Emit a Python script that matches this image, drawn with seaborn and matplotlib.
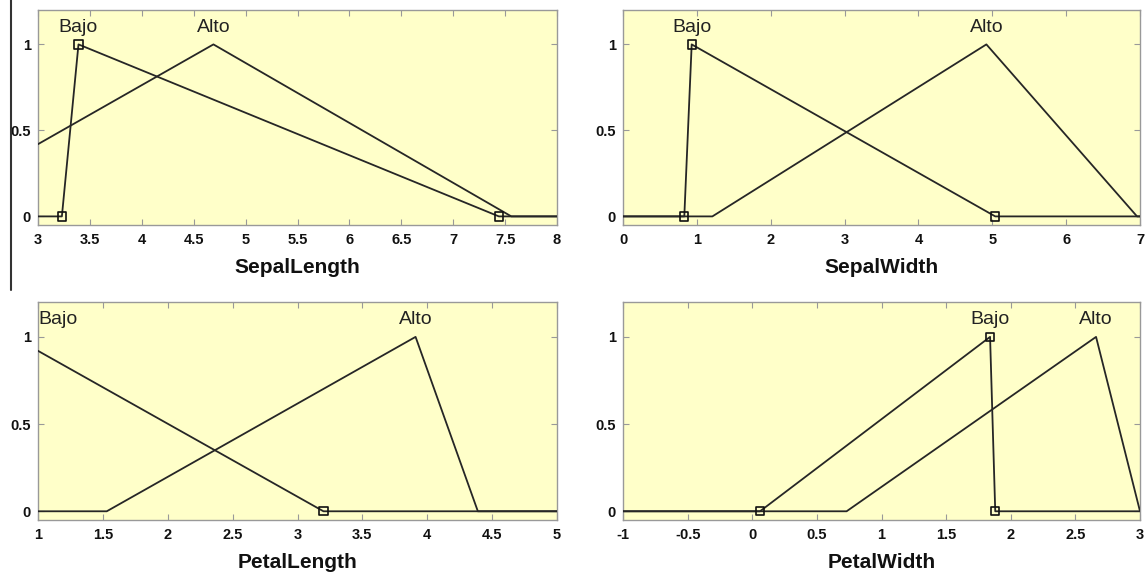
import matplotlib
matplotlib.use("Agg")
import matplotlib.pyplot as plt
from matplotlib.lines import Line2D
import seaborn as sns
import pandas as pd

sns.set_theme(style="white")
plt.rcParams['font.family'] = ['Liberation Sans', 'DejaVu Sans']

# ---- data: membership-function breakpoints ----
sl_bajo_x = [3.0, 3.23, 3.39, 7.44, 8.0]
sl_bajo_y = [0, 0, 1, 0, 0]
sl_alto_x = [3.0, 4.69, 7.56, 8.0]
sl_alto_y = [0.42, 1, 0, 0]
sl_mark_x = [3.23, 3.39, 7.44]
sl_mark_y = [0, 1, 0]

sw_bajo_x = [0.0, 0.83, 0.93, 5.04, 7.0]
sw_bajo_y = [0, 0, 1, 0, 0]
sw_alto_x = [0.0, 1.21, 4.92, 6.96, 7.0]
sw_alto_y = [0, 0, 1, 0, 0]
sw_mark_x = [0.83, 0.93, 5.04]
sw_mark_y = [0, 1, 0]

pl_bajo_x = [1.0, 3.2, 5.0]
pl_bajo_y = [0.92, 0, 0]
pl_alto_x = [1.0, 1.53, 3.91, 4.39, 5.0]
pl_alto_y = [0, 0, 1, 0, 0]
pl_mark_x = [3.2]
pl_mark_y = [0]

pw_bajo_x = [-1.0, 0.06, 1.84, 1.88, 3.0]
pw_bajo_y = [0, 0, 1, 0, 0]
pw_alto_x = [-1.0, 0.73, 2.66, 3.0]
pw_alto_y = [0, 0, 1, 0]
pw_mark_x = [0.06, 1.84, 1.88]
pw_mark_y = [0, 1, 0]

variables = ["SepalLength", "SepalWidth", "PetalLength", "PetalWidth"]
x_ranges = [(3, 8), (0, 7), (1, 5), (-1, 3)]
x_ticks = [
    [3, 3.5, 4, 4.5, 5, 5.5, 6, 6.5, 7, 7.5, 8],
    [0, 1, 2, 3, 4, 5, 6, 7],
    [1, 1.5, 2, 2.5, 3, 3.5, 4, 4.5, 5],
    [-1, -0.5, 0, 0.5, 1, 1.5, 2, 2.5, 3],
]
x_ticklabels = [
    ["3", "3.5", "4", "4.5", "5", "5.5", "6", "6.5", "7", "7.5", "8"],
    ["0", "1", "2", "3", "4", "5", "6", "7"],
    ["1", "1.5", "2", "2.5", "3", "3.5", "4", "4.5", "5"],
    ["-1", "-0.5", "0", "0.5", "1", "1.5", "2", "2.5", "3"],
]
y_ticks = [0, 0.5, 1]
y_ticklabels = ["0", "0.5", "1"]
mf_names = ["Bajo", "Alto"]
label_x = [(3.39, 4.69), (0.93, 4.92), (1.0, 3.91), (1.84, 2.66)]
label_ha = [("center", "center"), ("center", "center"), ("left", "center"), ("center", "center")]

series = [
    (sl_bajo_x, sl_bajo_y, sl_alto_x, sl_alto_y, sl_mark_x, sl_mark_y),
    (sw_bajo_x, sw_bajo_y, sw_alto_x, sw_alto_y, sw_mark_x, sw_mark_y),
    (pl_bajo_x, pl_bajo_y, pl_alto_x, pl_alto_y, pl_mark_x, pl_mark_y),
    (pw_bajo_x, pw_bajo_y, pw_alto_x, pw_alto_y, pw_mark_x, pw_mark_y),
]

W, H = 1146, 575
fig = plt.figure(figsize=(W / 100, H / 100), dpi=100)
fig.patch.set_facecolor("white")

# axes boxes in pixels: (left, top, right, bottom)
boxes = [(38, 10, 557, 225), (623, 10, 1140, 225),
         (38, 302, 557, 520), (623, 302, 1140, 520)]

bg = "#FFFFC9"
line_col = "#262626"
spine_col = "#999999"

for i, (l, t, r, b) in enumerate(boxes):
    ax = fig.add_axes([l / W, (H - b) / H, (r - l) / W, (b - t) / H])
    ax.set_facecolor(bg)
    bx, by, axx, ayy, mx, my = series[i]
    df_b = pd.DataFrame({"x": bx, "y": by})
    df_a = pd.DataFrame({"x": axx, "y": ayy})
    df_m = pd.DataFrame({"x": mx, "y": my})
    sns.lineplot(data=df_b, x="x", y="y", ax=ax, color=line_col, lw=1.3,
                 sort=False, estimator=None, zorder=3)
    sns.lineplot(data=df_a, x="x", y="y", ax=ax, color=line_col, lw=1.3,
                 sort=False, estimator=None, zorder=3)
    sns.scatterplot(data=df_m, x="x", y="y", ax=ax, marker="s", s=36,
                    facecolor="none", edgecolor="#111111", linewidth=1.2,
                    zorder=4, clip_on=False)
    ax.set_xlim(*x_ranges[i])
    ax.set_ylim(-0.05, 1.2)
    ax.set_xticks(x_ticks[i])
    ax.set_xticklabels(x_ticklabels[i])
    ax.set_yticks(y_ticks)
    ax.set_yticklabels(y_ticklabels)
    ax.tick_params(direction="in", length=4, width=0.8, color=spine_col,
                   top=True, right=True, bottom=True, left=True,
                   labelsize=10.5, pad=6)
    for lab in ax.get_xticklabels() + ax.get_yticklabels():
        lab.set_fontweight("bold")
        lab.set_color("#111111")
    ax.tick_params(axis="y", pad=5)
    for sp in ax.spines.values():
        sp.set_color(spine_col)
        sp.set_linewidth(1.0)
    ax.set_xlabel(variables[i], fontsize=15, fontweight="bold",
                  color="#111111", labelpad=8)
    ax.set_ylabel("")
    for name, xl, ha in zip(mf_names, label_x[i], label_ha[i]):
        ax.text(xl, 1.1, name, ha=ha, va="center", fontsize=14,
                color="#222222", zorder=5)

# vertical separator line at the left of the upper row
fig.add_artist(Line2D([11 / W, 11 / W], [1.0, (H - 290) / H],
                      color="#333333", lw=1.5))

fig.savefig("out.png", dpi=100, facecolor="white")
